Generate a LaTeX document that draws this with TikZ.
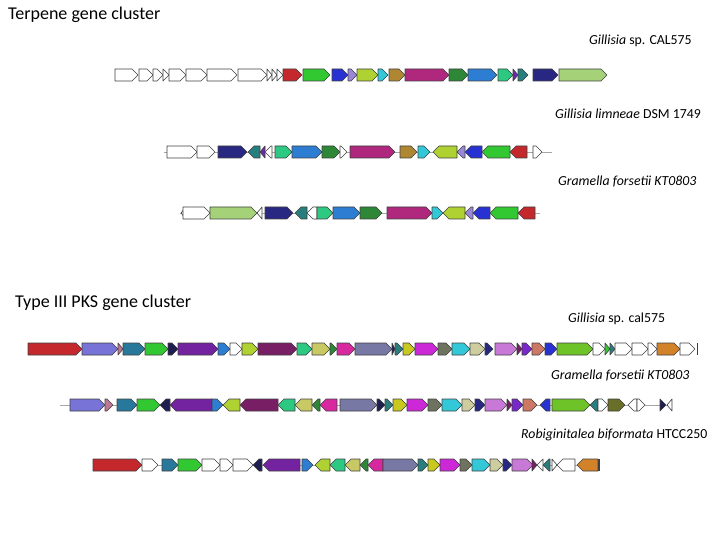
\documentclass[tikz,border=0pt]{standalone}
\usepackage{fontspec}
\setmainfont{Carlito}
\usepackage{tikz}
\usetikzlibrary{positioning}

\definecolor{gred}{RGB}{196,40,45}
\definecolor{ggreen}{RGB}{50,200,50}
\definecolor{gblue}{RGB}{40,50,210}
\definecolor{glav}{RGB}{155,135,215}
\definecolor{gyg}{RGB}{175,210,50}
\definecolor{gcyan}{RGB}{50,200,215}
\definecolor{gbrown}{RGB}{175,135,50}
\definecolor{gmag}{RGB}{175,40,125}
\definecolor{gdkgreen}{RGB}{45,135,55}
\definecolor{gsteel}{RGB}{45,125,210}
\definecolor{gsea}{RGB}{45,200,130}
\definecolor{gpurp}{RGB}{110,40,170}
\definecolor{gteal}{RGB}{40,125,125}
\definecolor{gnavy}{RGB}{40,40,130}
\definecolor{glight}{RGB}{165,210,120}
\definecolor{gslate}{RGB}{120,115,215}
\definecolor{gmauve}{RGB}{190,120,150}
\definecolor{gtblue}{RGB}{40,120,155}
\definecolor{gdnavy}{RGB}{30,30,80}
\definecolor{gviolet}{RGB}{115,35,160}
\definecolor{gmaroon}{RGB}{120,30,100}
\definecolor{gkhaki}{RGB}{200,200,100}
\definecolor{gpink}{RGB}{215,40,160}
\definecolor{gslgray}{RGB}{120,120,165}
\definecolor{gyellow}{RGB}{200,200,30}
\definecolor{gorchid}{RGB}{205,40,215}
\definecolor{ggrgreen}{RGB}{110,115,95}
\definecolor{gbeige}{RGB}{205,205,160}
\definecolor{gplum}{RGB}{200,120,215}
\definecolor{gpurple}{RGB}{120,40,200}
\definecolor{gsalmon}{RGB}{205,120,100}
\definecolor{glime}{RGB}{110,195,40}
\definecolor{gorange}{RGB}{210,130,40}
\definecolor{golive}{RGB}{105,110,40}

\tikzstyle{gene}  = [draw=black!75, line width=0.6pt, line join=round]
\tikzstyle{spine} = [draw=black!35, line width=0.8pt]
\tikzstyle{title} = [anchor=west, font=\fontsize{18}{20}\selectfont, inner sep=0pt]
\tikzstyle{strain}= [anchor=west, font=\fontsize{13.8}{15}\selectfont, inner sep=0pt]

% one gene: start/end/colour, tip at end
\newcommand{\genes}[2]{%
  \foreach \a/\b/\c in {#2} {
    \pgfmathsetmacro\tp{ifthenelse(abs(\b-\a)<6,\b-\a,6*sign(\b-\a))}
    \draw[gene, fill=\c] (\a,#1-6) -- (\b-\tp,#1-6) -- (\b,#1) -- (\b-\tp,#1+6) -- (\a,#1+6) -- cycle;
  }}

\begin{document}
\begin{tikzpicture}[x=1pt, y=-1pt]
  \useasboundingbox (0,0) rectangle (720,540);

  % Titles
  \node[title] (terp) at (8,15) {Terpene gene cluster};
  \node[title] (pks) at (15,303) {Type III PKS gene cluster};

  % Strains
  \node[strain] (s1) at (589,41) {\textit{Gillisia} sp. CAL575};
  \node[strain] (s2) at (555,114) {\textit{Gillisia limneae} DSM 1749};
  \node[strain] (s3) at (558,182) {\textit{Gramella forsetii KT0803}};
  \node[strain] (s4) at (568,319) {\textit{Gillisia} sp. cal575};
  \node[strain] (s5) at (551,376) {\textit{Gramella forsetii KT0803}};
  \node[strain] (s6) at (521,435) {\textit{Robiginitalea biformata} HTCC250};

  % Terpene row 1
  \genes{75}{115/138/white, 139/153/white, 153/163/white, 163/169/white,
    169/186/white, 186/207/white, 207/237/white, 238/267/white,
    267/272/white, 272/277/white, 277/283/white, 283/302/gred,
    303/330/ggreen, 332/348/gblue, 348/357/glav, 357/378/gyg,
    378/388/gcyan, 389/405/gbrown, 405/449/gmag, 449/468/gdkgreen,
    468/497/gsteel, 498/513/gsea, 513/518/gpurp, 518/528/gteal,
    533/558/gnavy, 559/607/glight}

  % Terpene row 2
  \draw[spine] (164,152) -- (552,152);
  \genes{152}{167/197/white, 197/215/white, 218/247/gnavy, 260/248/gteal,
    265/260/gpurp, 272/265/white, 275/292/gsea, 292/322/gsteel,
    322/340/gdkgreen, 340/347/white, 350/395/gmag, 400/417/gbrown,
    418/430/gcyan, 457/433/gyg, 465/457/glav, 482/465/gblue,
    510/482/ggreen, 527/510/gred, 533/542/white}

  % Terpene row 3
  \draw[spine] (180,213) -- (540,213);
  \genes{213}{186/181/white, 183/210/white, 210/257/glight, 262/257/white,
    265/293/gnavy, 307/295/gteal, 317/307/white, 317/333/gsea,
    333/360/gsteel, 360/382/gdkgreen, 387/432/gmag, 432/443/gcyan,
    465/443/gyg, 473/465/glav, 490/473/gblue, 518/490/ggreen,
    535/518/gred}

  % PKS row 1
  \genes{349}{28/82/gred, 82/118/gslate, 118/123/gmauve, 123/145/gtblue,
    145/168/ggreen, 168/178/gdnavy, 178/218/gviolet, 218/230/gsteel,
    230/242/white, 242/258/gyg, 258/297/gmaroon, 297/312/gsea,
    312/330/gkhaki, 330/337/gdkgreen, 337/355/gpink, 355/392/gslgray,
    392/395/gdnavy, 395/403/gteal, 403/415/gyellow, 415/438/gorchid,
    438/452/ggrgreen, 452/470/gcyan, 470/485/gbeige, 485/493/gnavy,
    495/517/gplum, 517/522/gmaroon, 522/532/gpurple, 532/545/gsalmon,
    545/557/gblue, 557/593/glime, 593/605/white, 605/610/ggreen,
    610/615/gteal, 615/632/white, 632/648/white, 648/657/white,
    657/680/gorange, 680/695/white}
  \draw[gene] (697,343) -- (697,355);

  % PKS row 2
  \draw[spine] (60,405) -- (672,405);
  \genes{405}{70/105/gslate, 105/113/gmauve, 117/137/gtblue, 137/160/ggreen,
    170/160/gdnavy, 212/170/gviolet, 212/223/gsteel, 240/223/gyg,
    278/240/gmaroon, 295/278/gsea, 312/295/gkhaki, 320/312/gdkgreen,
    337/320/gpink, 340/377/gslgray, 377/385/gdnavy, 385/393/gteal,
    393/407/gyellow, 407/428/gorchid, 428/442/ggrgreen, 442/462/gcyan,
    462/475/gbeige, 475/485/gnavy, 485/507/gplum, 507/512/gmaroon,
    512/523/gpurple, 523/537/gsalmon, 550/540/gblue, 552/590/glime,
    598/590/gteal, 598/608/white, 608/625/golive, 637/628/white,
    637/645/white, 660/666/gdnavy, 672/667/white}

  % PKS row 3
  \draw[spine] (142,465) -- (600,465);
  \genes{465}{93/142/gred, 142/158/white, 162/178/gtblue, 178/202/ggreen,
    202/220/white, 220/233/white, 233/253/white, 262/253/gdnavy,
    300/263/gviolet, 302/313/gsteel, 330/315/gyg, 345/330/gsea,
    360/345/gkhaki, 368/360/gdkgreen, 383/368/gpink, 383/418/gslgray,
    418/428/gteal, 428/440/gyellow, 440/460/gorchid, 460/472/ggrgreen,
    472/490/gcyan, 490/503/gbeige, 503/512/gnavy, 512/533/gplum,
    532/537/gmaroon, 543/537/white, 550/543/gteal, 552/557/white,
    575/557/white, 598/577/gorange}
  \draw[gene, line width=1.2pt] (599,459) -- (599,471);
\end{tikzpicture}
\end{document}
